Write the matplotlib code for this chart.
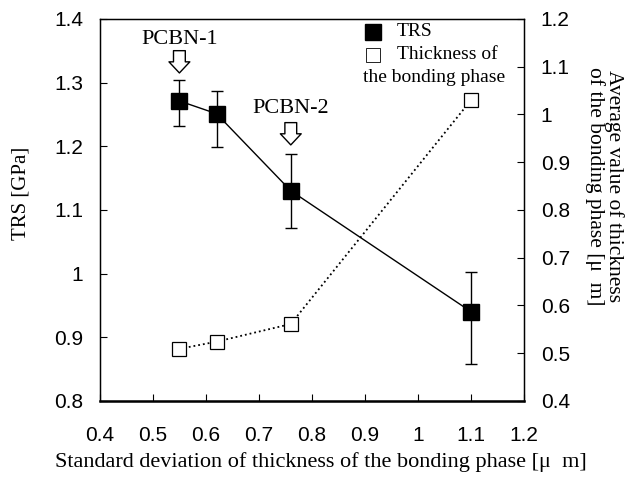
import matplotlib.pyplot as plt
import numpy as np

# data
sd_thickness = [0.55, 0.62, 0.76, 1.10]
trs = [1.271, 1.251, 1.130, 0.940]
trs_upper = [1.304, 1.286, 1.188, 1.003]
trs_lower = [1.231, 1.199, 1.072, 0.858]
avg_thickness = [0.509, 0.524, 0.561, 1.030]

labels = ["PCBN-1", "PCBN-2"]
label_x = [0.55, 0.76]
label_y = [1.352, 1.245]
arrow_top = [1.350, 1.237]
arrow_tip = [1.315, 1.202]

serif = "Liberation Serif"
sans = "Liberation Sans"

fig = plt.figure(figsize=(6.4, 4.83), dpi=100)
ax = fig.add_axes([0.156, 0.170, 0.663, 0.791])

err = [np.array(trs) - np.array(trs_lower), np.array(trs_upper) - np.array(trs)]
ax.errorbar(sd_thickness, trs, yerr=err, fmt="s-", color="black",
            ms=11, lw=1, elinewidth=1, capsize=4, capthick=1, zorder=3)

ax.set_xlim(0.4, 1.2)
ax.set_ylim(0.8, 1.4)
ax.set_xticks(np.arange(0.4, 1.21, 0.1))
ax.set_xticklabels(["0.4", "0.5", "0.6", "0.7", "0.8", "0.9", "1", "1.1", "1.2"])
ax.set_yticks(np.arange(0.8, 1.41, 0.1))
ax.set_yticklabels(["0.8", "0.9", "1", "1.1", "1.2", "1.3", "1.4"])
ax.tick_params(direction="in", length=5, labelsize=15)
ax.tick_params(axis="y", pad=12)
ax.tick_params(axis="x", pad=18)
for lab in ax.get_xticklabels() + ax.get_yticklabels():
    lab.set_family(sans)

ax2 = ax.twinx()
ax2.plot(sd_thickness, avg_thickness, "s:", color="black", mfc="white",
         ms=10, mew=0.9, lw=1.3)
ax2.set_ylim(0.4, 1.2)
ax2.set_yticks(np.arange(0.4, 1.21, 0.1))
ax2.set_yticklabels(["0.4", "0.5", "0.6", "0.7", "0.8", "0.9", "1", "1.1", "1.2"])
ax2.tick_params(direction="in", length=5, labelsize=15, pad=12)
for lab in ax2.get_yticklabels():
    lab.set_family(sans)

for sp in ax.spines.values():
    sp.set_linewidth(1)
ax.spines["bottom"].set_linewidth(1.8)

# PCBN markers with hollow arrows
for name, x, y, y0, y1 in zip(labels, label_x, label_y, arrow_top, arrow_tip):
    ax.text(x, y, name, ha="center", va="bottom", fontsize=16, family=serif)
    ax.annotate("", xy=(x, y1), xytext=(x, y0),
                arrowprops=dict(arrowstyle="simple,head_width=1.5,head_length=0.8,tail_width=0.85",
                                fc="white", ec="black", lw=1.0, shrinkA=0, shrinkB=0))

# legend drawn by hand to keep the wrapped second line under the marker
ax.plot([0.644], [0.966], "s", color="black", ms=11, transform=ax.transAxes, clip_on=False)
ax.plot([0.644], [0.906], "s", color="black", mfc="white", ms=10, mew=0.6,
        transform=ax.transAxes, clip_on=False)
ax.text(0.700, 0.966, "TRS", transform=ax.transAxes, va="center", fontsize=14, family=serif)
ax.text(0.700, 0.906, "Thickness of", transform=ax.transAxes, va="center", fontsize=14, family=serif)
ax.text(0.620, 0.846, "the bonding phase", transform=ax.transAxes, va="center", fontsize=14, family=serif)

ax.set_xlabel("Standard deviation of thickness of the bonding phase [\u03bc  m]",
              fontsize=16, family=serif)
ax.xaxis.set_label_coords(0.521, -0.134)
ax.set_ylabel("TRS [GPa]", fontsize=15, family=serif)
ax.yaxis.set_label_coords(-0.163, 0.542)
ax2.set_ylabel("Average value of thickness\nof the bonding phase [\u03bc  m]",
               fontsize=15.5, family=serif, rotation=270, va="center", linespacing=0.95)
ax2.yaxis.set_label_coords(1.19, 0.563)

plt.savefig("out.png", dpi=100)
